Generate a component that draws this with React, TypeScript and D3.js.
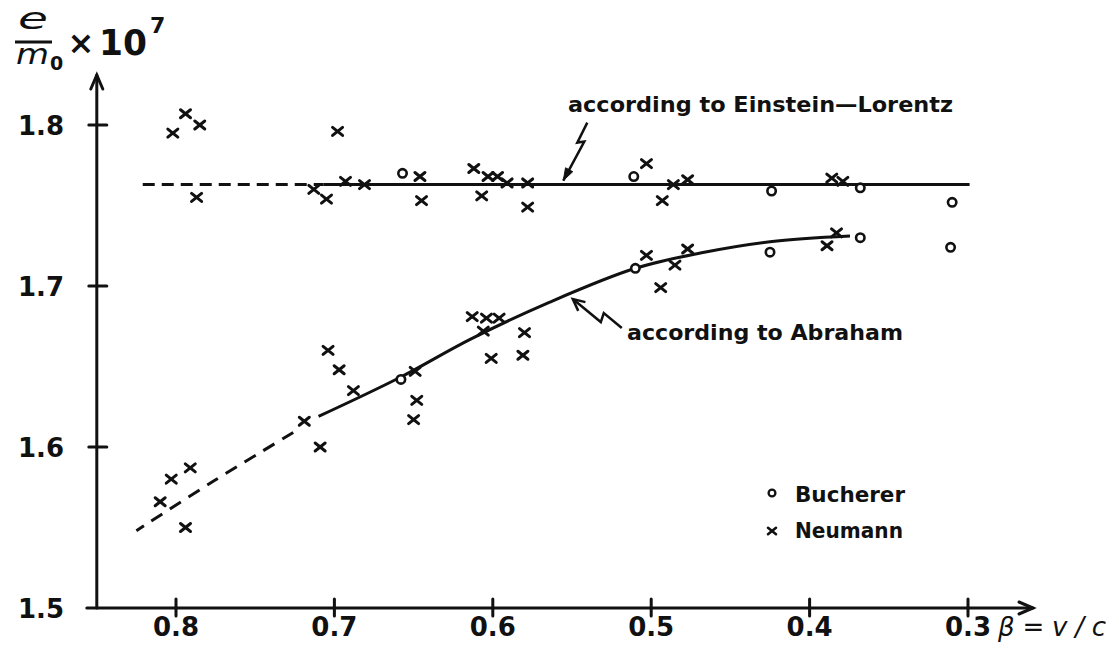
import React from 'react';
import * as d3 from 'd3';

// ---- data ----
const betaTicks = [0.8, 0.7, 0.6, 0.5, 0.4, 0.3];
const ratioTicks = [1.8, 1.7, 1.6, 1.5];

const neumannBeta = [
  0.802, 0.794, 0.785, 0.787, 0.698, 0.713, 0.705, 0.693, 0.681, 0.646, 0.645,
  0.612, 0.607, 0.603, 0.597, 0.591, 0.578, 0.578, 0.503, 0.493, 0.486, 0.477,
  0.386, 0.379,
  0.704, 0.697, 0.688, 0.719, 0.709, 0.649, 0.648, 0.65, 0.613, 0.604, 0.596,
  0.606, 0.601, 0.58, 0.581, 0.503, 0.494, 0.485, 0.477, 0.383, 0.389,
  0.791, 0.803, 0.81, 0.794,
];
const neumannRatio = [
  1.795, 1.807, 1.8, 1.755, 1.796, 1.76, 1.754, 1.765, 1.763, 1.768, 1.753,
  1.773, 1.756, 1.768, 1.768, 1.764, 1.764, 1.749, 1.776, 1.753, 1.763, 1.766,
  1.767, 1.765,
  1.66, 1.648, 1.635, 1.616, 1.6, 1.647, 1.629, 1.617, 1.681, 1.68, 1.68,
  1.672, 1.655, 1.671, 1.657, 1.719, 1.699, 1.713, 1.723, 1.733, 1.725,
  1.587, 1.58, 1.566, 1.55,
];

const buchererBeta = [0.657, 0.511, 0.424, 0.368, 0.31, 0.658, 0.51, 0.425, 0.368, 0.311];
const buchererRatio = [1.77, 1.768, 1.759, 1.761, 1.752, 1.642, 1.711, 1.721, 1.73, 1.724];

const einsteinRatio = 1.763;
const einsteinDashedBeta = [0.821, 0.707];
const einsteinSolidBeta = [0.707, 0.299];

const abrahamDashedBeta = [0.825, 0.776, 0.726];
const abrahamDashedRatio = [1.548, 1.579, 1.609];
const abrahamSolidBeta = [0.71, 0.659, 0.614, 0.564, 0.51, 0.469, 0.425, 0.3745];
const abrahamSolidRatio = [1.619, 1.643, 1.667, 1.69, 1.711, 1.7205, 1.7275, 1.731];

// ---- layout ----
const W = 1119;
const H = 650;
const INK = '#111';
const FONT = '"DejaVu Sans", sans-serif';

const x = d3.scaleLinear().domain([0.8, 0.3]).range([176, 968]);
const y = d3.scaleLinear().domain([1.8, 1.5]).range([125, 608]);

const axisX0 = x(0.85);
const axisY0 = y(1.5);

function arms(tx: number, ty: number, fx: number, fy: number, len: number, ang: number) {
  const dx = fx - tx, dy = fy - ty;
  const d = Math.hypot(dx, dy);
  const ux = dx / d, uy = dy / d;
  const c = Math.cos(ang), s = Math.sin(ang);
  const a1 = [tx + len * (ux * c - uy * s), ty + len * (ux * s + uy * c)];
  const a2 = [tx + len * (ux * c + uy * s), ty + len * (-ux * s + uy * c)];
  return { a1, a2 };
}

const Cross = ({ cx, cy, r = 5, sw = 3 }: { cx: number; cy: number; r?: number; sw?: number }) => (
  <g stroke={INK} strokeWidth={sw} strokeLinecap="round">
    <line x1={cx - r} y1={cy - r * 0.8} x2={cx + r} y2={cy + r * 0.8} />
    <line x1={cx - r} y1={cy + r * 0.8} x2={cx + r} y2={cy - r * 0.8} />
  </g>
);

export default function App() {
  const lineGen = d3
    .line<[number, number]>()
    .x((d) => x(d[0]))
    .y((d) => y(d[1]))
    .curve(d3.curveCatmullRom.alpha(0.5));

  const abrDashed = lineGen(abrahamDashedBeta.map((b, i) => [b, abrahamDashedRatio[i]] as [number, number]).reverse()) || '';
  const abrSolid = lineGen(abrahamSolidBeta.map((b, i) => [b, abrahamSolidRatio[i]] as [number, number]).reverse()) || '';

  // annotation arrows (anchored to the curves in data space)
  const eTipX = x(0.5555), eTipY = y(einsteinRatio) - 4;
  const ePath = `M${eTipX + 24},${eTipY - 58} L${eTipX + 14},${eTipY - 38} L${eTipX + 21},${eTipY - 39} L${eTipX},${eTipY}`;
  const eHead = arms(eTipX, eTipY, eTipX + 21, eTipY - 39, 13, 0.32);

  const aTipX = x(0.5495), aTipY = y(1.6925) + 1;
  const aPath = `M${aTipX + 49},${aTipY + 29} L${aTipX + 31},${aTipY + 14} L${aTipX + 28},${aTipY + 23} L${aTipX},${aTipY}`;
  const aHead = arms(aTipX, aTipY, aTipX + 28, aTipY + 23, 13, 0.45);

  const xArrowEnd = 1033;
  const yArrowEnd = 75;

  return (
    <svg
      width={W}
      height={H}
      viewBox={`0 0 ${W} ${H}`}
      style={{ position: 'absolute', left: 0, top: 0, background: '#fff' }}
      fontFamily={FONT}
    >
      <rect x={0} y={0} width={W} height={H} fill="#fff" />

      {/* axes */}
      <g stroke={INK} strokeWidth={3} fill="none" strokeLinecap="round">
        <line x1={axisX0 - 10} y1={axisY0} x2={xArrowEnd} y2={axisY0} />
        <line x1={axisX0} y1={axisY0} x2={axisX0} y2={yArrowEnd} />
        <polyline points={`${xArrowEnd - 14},${axisY0 - 6} ${xArrowEnd},${axisY0} ${xArrowEnd - 14},${axisY0 + 6}`} />
        <polyline points={`${axisX0 - 6},${yArrowEnd + 14} ${axisX0},${yArrowEnd} ${axisX0 + 6},${yArrowEnd + 14}`} />
        {betaTicks.map((b) => (
          <line key={b} x1={x(b)} y1={axisY0 - 9} x2={x(b)} y2={axisY0 + 8} />
        ))}
        {ratioTicks.slice(0, 3).map((r) => (
          <line key={r} x1={axisX0 - 8} y1={y(r)} x2={axisX0 + 10} y2={y(r)} />
        ))}
      </g>

      {/* tick labels */}
      <g fill={INK} fontWeight="bold" fontSize={26}>
        {ratioTicks.map((r) => (
          <text key={r} x={64} y={y(r) + 10} textAnchor="end">
            {r.toFixed(1)}
          </text>
        ))}
        {betaTicks.map((b) => (
          <text key={b} x={x(b)} y={636} textAnchor="middle">
            {b.toFixed(1)}
          </text>
        ))}
        <text x={998} y={636} fontStyle="italic" fontWeight="normal" textLength={108} lengthAdjust="spacing">
          β=v/c
        </text>
      </g>

      {/* y axis title */}
      <g fill={INK}>
        <text x={33} y={29} fontSize={30} fontStyle="italic" textAnchor="middle" textLength={30} lengthAdjust="spacingAndGlyphs">
          e
        </text>
        <line x1={15} y1={42} x2={52} y2={42} stroke={INK} strokeWidth={3} />
        <text x={16} y={64} fontSize={28} fontStyle="italic" textLength={33} lengthAdjust="spacingAndGlyphs">
          m
        </text>
        <text x={50} y={70} fontSize={19} fontWeight="bold">
          0
        </text>
        <text x={81} y={54} fontSize={32} fontWeight="bold" textAnchor="middle">
          ×
        </text>
        <text x={99} y={55} fontSize={35} fontWeight="bold" textLength={48} lengthAdjust="spacingAndGlyphs">
          10
        </text>
        <text x={150} y={33} fontSize={22} fontWeight="bold">
          7
        </text>
      </g>

      {/* Einstein-Lorentz line */}
      <g stroke={INK} strokeWidth={3} fill="none">
        <line
          x1={x(einsteinDashedBeta[0])}
          x2={x(einsteinDashedBeta[1])}
          y1={y(einsteinRatio)}
          y2={y(einsteinRatio)}
          strokeDasharray="12 7"
        />
        <line x1={x(einsteinSolidBeta[0])} x2={x(einsteinSolidBeta[1])} y1={y(einsteinRatio)} y2={y(einsteinRatio)} />
      </g>

      {/* Abraham curve */}
      <path d={abrDashed} stroke={INK} strokeWidth={3} fill="none" strokeDasharray="13 9" />
      <path d={abrSolid} stroke={INK} strokeWidth={3} fill="none" />

      {/* annotations */}
      <g stroke={INK} strokeWidth={2.5} fill="none" strokeLinejoin="miter">
        <path d={ePath} />
        <path d={aPath} />
        <polyline points={`${aHead.a1[0]},${aHead.a1[1]} ${aTipX},${aTipY} ${aHead.a2[0]},${aHead.a2[1]}`} />
      </g>
      <polygon
        points={`${eHead.a1[0]},${eHead.a1[1]} ${eTipX},${eTipY} ${eHead.a2[0]},${eHead.a2[1]}`}
        fill={INK}
        stroke={INK}
        strokeWidth={1}
      />
      <g fill={INK} fontWeight="bold" fontSize={22}>
        <text x={568} y={112} textLength={385} lengthAdjust="spacingAndGlyphs">
          according to Einstein—Lorentz
        </text>
        <text x={627} y={340} textLength={276} lengthAdjust="spacingAndGlyphs">
          according to Abraham
        </text>
      </g>

      {/* data points */}
      {neumannBeta.map((b, i) => (
        <Cross key={'n' + i} cx={x(b)} cy={y(neumannRatio[i])} />
      ))}
      {buchererBeta.map((b, i) => (
        <circle key={'b' + i} cx={x(b)} cy={y(buchererRatio[i])} r={4.2} fill="#fff" stroke={INK} strokeWidth={2.6} />
      ))}

      {/* legend */}
      <circle cx={772} cy={493} r={3.4} fill="#fff" stroke={INK} strokeWidth={2.3} />
      <Cross cx={772} cy={531} r={4} sw={2.6} />
      <g fill={INK} fontWeight="bold" fontSize={22}>
        <text x={795} y={502} textLength={110} lengthAdjust="spacingAndGlyphs">
          Bucherer
        </text>
        <text x={795} y={538} textLength={108} lengthAdjust="spacingAndGlyphs">
          Neumann
        </text>
      </g>
    </svg>
  );
}
